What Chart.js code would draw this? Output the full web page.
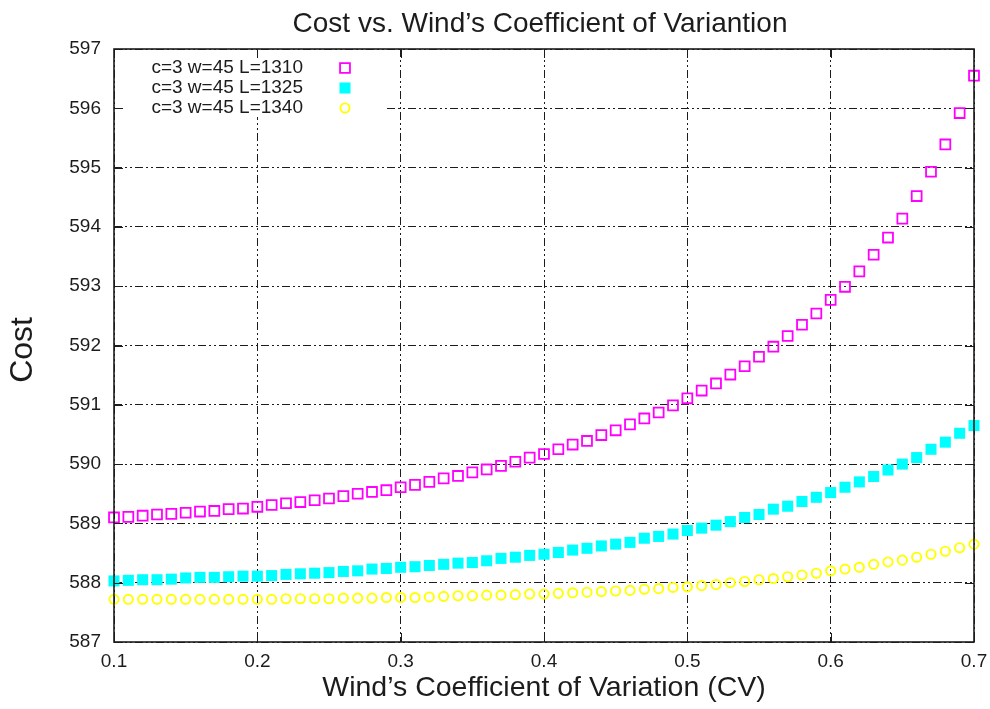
<!DOCTYPE html>
<html lang="en">
<head>
  <meta charset="UTF-8" />
  <title>Cost vs. Wind's Coefficient of Variantion</title>
  <script src="https://cdn.jsdelivr.net/npm/chart.js"></script>
  <style>
    body { margin: 0; background: #fff; }
    #wrap { width: 990px; height: 709px; position: relative; }
  </style>
</head>
<body>
  <div id="wrap"><canvas id="chart"></canvas></div>

  <script>
    // coefficient of variation (x) and cost for each run
    const cv = [
      0.10, 0.11, 0.12, 0.13, 0.14, 0.15, 0.16, 0.17, 0.18, 0.19,
      0.20, 0.21, 0.22, 0.23, 0.24, 0.25, 0.26, 0.27, 0.28, 0.29,
      0.30, 0.31, 0.32, 0.33, 0.34, 0.35, 0.36, 0.37, 0.38, 0.39,
      0.40, 0.41, 0.42, 0.43, 0.44, 0.45, 0.46, 0.47, 0.48, 0.49,
      0.50, 0.51, 0.52, 0.53, 0.54, 0.55, 0.56, 0.57, 0.58, 0.59,
      0.60, 0.61, 0.62, 0.63, 0.64, 0.65, 0.66, 0.67, 0.68, 0.69,
      0.70
    ];
    const cost1310 = [
      589.10, 589.11, 589.13, 589.15, 589.16, 589.18, 589.20, 589.21, 589.24, 589.25,
      589.28, 589.31, 589.34, 589.36, 589.39, 589.42, 589.46, 589.50, 589.53, 589.56,
      589.61, 589.65, 589.70, 589.76, 589.80, 589.86, 589.91, 589.97, 590.04, 590.11,
      590.17, 590.25, 590.33, 590.39, 590.49, 590.57, 590.67, 590.77, 590.87, 590.99,
      591.11, 591.24, 591.36, 591.51, 591.65, 591.81, 591.98, 592.16, 592.35, 592.54,
      592.77, 592.99, 593.25, 593.53, 593.82, 594.14, 594.52, 594.93, 595.39, 595.92,
      596.55
    ];
    const cost1325 = [
      588.03, 588.04, 588.05, 588.05, 588.06, 588.08, 588.09, 588.09, 588.10, 588.11,
      588.11, 588.12, 588.14, 588.15, 588.16, 588.17, 588.19, 588.20, 588.23, 588.24,
      588.26, 588.27, 588.29, 588.31, 588.33, 588.34, 588.37, 588.41, 588.43, 588.46,
      588.48, 588.51, 588.55, 588.58, 588.62, 588.65, 588.68, 588.75, 588.78, 588.82,
      588.88, 588.92, 588.97, 589.03, 589.10, 589.15, 589.24, 589.29, 589.37, 589.44,
      589.52, 589.61, 589.70, 589.79, 589.90, 590.00, 590.11, 590.25, 590.37, 590.52,
      590.65
    ];
    const cost1340 = [
      587.72, 587.72, 587.72, 587.72, 587.72, 587.72, 587.72, 587.72, 587.72, 587.72,
      587.72, 587.72, 587.73, 587.73, 587.73, 587.73, 587.74, 587.74, 587.74, 587.75,
      587.75, 587.75, 587.76, 587.77, 587.78, 587.78, 587.79, 587.79, 587.80, 587.81,
      587.81, 587.82, 587.83, 587.84, 587.85, 587.86, 587.87, 587.89, 587.90, 587.92,
      587.93, 587.95, 587.97, 588.00, 588.02, 588.05, 588.07, 588.10, 588.13, 588.16,
      588.20, 588.23, 588.26, 588.31, 588.35, 588.38, 588.43, 588.48, 588.53, 588.59,
      588.65
    ];
    const seriesLabels = ['c=3 w=45 L=1310', 'c=3 w=45 L=1325', 'c=3 w=45 L=1340'];
    const xTicks = [0.1, 0.2, 0.3, 0.4, 0.5, 0.6, 0.7];
    const yTicks = [587, 588, 589, 590, 591, 592, 593, 594, 595, 596, 597];
    const chartTitle = "Cost vs. Wind\u2019s Coefficient of Variantion";

    const FONT = "'Liberation Sans', Arial, sans-serif";
    const INK = '#1c1c1c';

    const toPoints = ys => cv.map((x, i) => ({ x: x, y: ys[i] }));

    // title over the plot, frame, inner tick marks and the key box
    const framePlugin = {
      id: 'frame',
      beforeDatasetsDraw(chart) {
        const { ctx, chartArea: a } = chart;
        ctx.save();
        ctx.fillStyle = '#fff';
        ctx.fillRect(a.left + 1, a.top + 1, 271, 67);
        ctx.restore();
      },
      afterDraw(chart) {
        const { ctx, chartArea: a, scales } = chart;
        ctx.save();
        ctx.fillStyle = INK;
        ctx.font = '28px ' + FONT;
        ctx.textAlign = 'center';
        ctx.textBaseline = 'alphabetic';
        ctx.fillText(chartTitle, (a.left + a.right) / 2 - 4, 32);

        ctx.strokeStyle = INK;
        ctx.lineWidth = 1;
        ctx.beginPath();
        scales.x.ticks.forEach(t => {
          const px = Math.round(scales.x.getPixelForValue(t.value)) + 0.5;
          ctx.moveTo(px, a.bottom); ctx.lineTo(px, a.bottom - 9);
          ctx.moveTo(px, a.top); ctx.lineTo(px, a.top + 9);
        });
        scales.y.ticks.forEach(t => {
          const py = Math.round(scales.y.getPixelForValue(t.value)) + 0.5;
          ctx.moveTo(a.left, py); ctx.lineTo(a.left + 9, py);
          ctx.moveTo(a.right, py); ctx.lineTo(a.right - 9, py);
        });
        ctx.stroke();
        ctx.lineWidth = 1.6;
        ctx.strokeRect(a.left, a.top, a.right - a.left, a.bottom - a.top);

        // key: label then marker, inside the top-left corner
        ctx.font = '19px ' + FONT;
        ctx.textAlign = 'right';
        ctx.textBaseline = 'middle';
        chart.data.datasets.forEach((ds, i) => {
          const y = a.top + 19 + i * 20;
          ctx.fillStyle = INK;
          ctx.fillText(ds.label, a.left + 189, y);
          ctx.fillStyle = ds.backgroundColor;
          ctx.strokeStyle = ds.borderColor;
          ctx.lineWidth = ds.borderWidth;
          Chart.helpers.drawPoint(ctx, {
            pointStyle: ds.pointStyle,
            radius: ds.pointRadius,
            borderWidth: ds.borderWidth,
            rotation: 0
          }, a.left + 231, y);
        });
        ctx.restore();
      }
    };

    const ctx = document.getElementById('chart').getContext('2d');
    new Chart(ctx, {
      type: 'scatter',
      data: {
        datasets: [
          {
            label: seriesLabels[0],
            data: toPoints(cost1310),
            pointStyle: 'rect',
            pointRadius: 7,
            borderWidth: 1.8,
            borderColor: '#ff00ff',
            backgroundColor: 'rgba(0,0,0,0)',
            clip: false
          },
          {
            label: seriesLabels[1],
            data: toPoints(cost1325),
            pointStyle: 'rect',
            pointRadius: 7.8,
            borderWidth: 0,
            borderColor: '#00ffff',
            backgroundColor: '#00ffff',
            clip: false
          },
          {
            label: seriesLabels[2],
            data: toPoints(cost1340),
            pointStyle: 'circle',
            pointRadius: 4.6,
            borderWidth: 1.9,
            borderColor: '#ffff00',
            backgroundColor: 'rgba(0,0,0,0)',
            clip: false
          }
        ]
      },
      options: {
        responsive: true,
        maintainAspectRatio: false,
        animation: false,
        layout: { padding: { left: 0, right: 16, top: 49, bottom: 0 } },
        plugins: {
          legend: { display: false },
          tooltip: { enabled: false },
          title: { display: false }
        },
        scales: {
          x: {
            type: 'linear',
            min: 0.1,
            max: 0.7,
            afterBuildTicks: s => { s.ticks = xTicks.map(v => ({ value: v })); },
            afterFit: s => { s.height = 67; s.paddingLeft = 0; s.paddingRight = 0; },
            ticks: {
              color: INK,
              padding: 8,
              font: { family: FONT, size: 19 },
              callback: v => v.toFixed(1)
            },
            grid: { color: INK, lineWidth: 1, drawTicks: false },
            border: { display: false, dash: [8, 3, 2, 3, 2, 3] },
            title: {
              display: true,
              text: "Wind\u2019s Coefficient of Variation (CV)",
              color: INK,
              font: { family: FONT, size: 28.5 },
              padding: { top: 0, bottom: 4 }
            }
          },
          y: {
            min: 587,
            max: 597,
            afterBuildTicks: s => { s.ticks = yTicks.map(v => ({ value: v })); },
            afterFit: s => { s.width = 114; s.paddingTop = 0; s.paddingBottom = 0; },
            ticks: {
              color: INK,
              padding: 13,
              font: { family: FONT, size: 19 },
              callback: v => String(v)
            },
            grid: { color: INK, lineWidth: 1, drawTicks: false },
            border: { display: false, dash: [8, 3, 2, 3, 2, 3] },
            title: {
              display: true,
              text: 'Cost ',
              color: INK,
              font: { family: FONT, size: 32 },
              padding: { top: 4, bottom: 0 }
            }
          }
        }
      },
      plugins: [framePlugin]
    });
  </script>
</body>
</html>
